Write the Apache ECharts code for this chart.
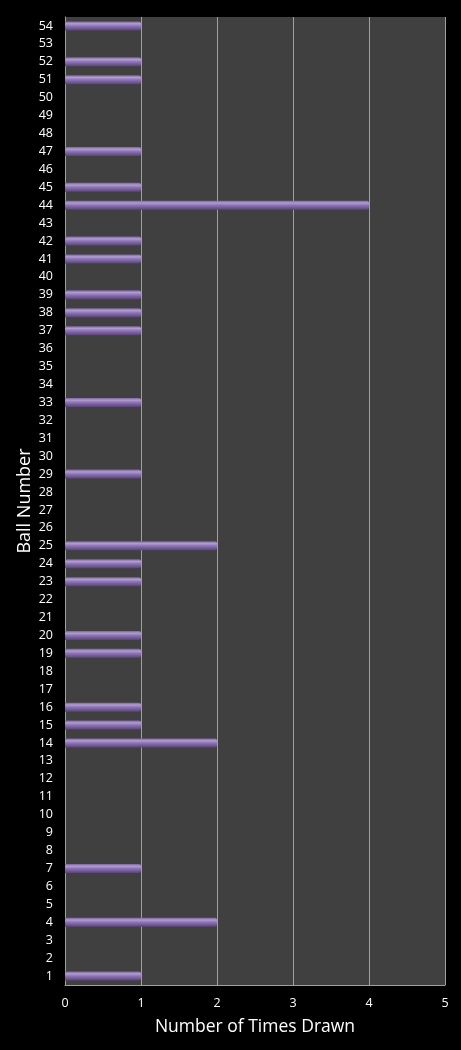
<!DOCTYPE html>
<html><head><meta charset="utf-8">
<script src="https://cdn.jsdelivr.net/npm/echarts@6/dist/echarts.min.js"></script>
<style>html,body{margin:0;padding:0;background:#000;}#c{width:461px;height:1050px;}</style>
</head><body><div id="c"></div>
<script>
const ballNumbers = [];
for (let i = 1; i <= 54; i++) ballNumbers.push(String(i));
const drawnBalls = ['1','4','7','14','15','16','19','20','23','24','25','29','33','37','38','39','41','42','44','45','47','51','52','54'];
const drawnCounts = [1,2,1,2,1,1,1,1,1,1,2,1,1,1,1,1,1,1,4,1,1,1,1,1];
const xTicks = [0,1,2,3,4,5];

const countMap = {};
drawnBalls.forEach((b, i) => countMap[b] = drawnCounts[i]);
const values = ballNumbers.map(b => countMap[b] !== undefined ? countMap[b] : null);

const chart = echarts.init(document.getElementById('c'));
const font = '"Open Sans", sans-serif';
chart.setOption({
  backgroundColor: '#000',
  animation: false,
  grid: { left: 65, right: 16, top: 17, bottom: 65, show: true, backgroundColor: '#404040', borderWidth: 0 },
  xAxis: {
    type: 'value', min: xTicks[0], max: xTicks[xTicks.length-1], interval: 1,
    name: 'Number of Times Drawn', nameLocation: 'middle', nameGap: 33,
    nameTextStyle: { color: '#fff', fontSize: 17.5, fontFamily: font },
    axisLine: { show: true, lineStyle: { color: '#a0a0a0', width: 1 } },
    axisTick: { show: false },
    axisLabel: { color: '#fff', fontSize: 12.5, fontFamily: font, margin: 12 },
    splitLine: { show: true, lineStyle: { color: '#a0a0a0', width: 1 } }
  },
  yAxis: {
    type: 'category', data: ballNumbers,
    name: 'Ball Number', nameLocation: 'middle', nameGap: 31, nameRotate: 90,
    nameMoveOverlap: false,
    nameTextStyle: { color: '#fff', fontSize: 18, fontFamily: font },
    axisLine: { show: true, lineStyle: { color: '#a0a0a0', width: 1 } },
    axisTick: { show: false },
    axisLabel: { color: '#fff', fontSize: 12.5, fontFamily: font, margin: 12, interval: 0 },
    splitLine: { show: false }
  },
  series: [{
    type: 'bar', data: values, barWidth: 9,
    itemStyle: {
      borderRadius: [0, 2, 2, 0],
      color: new echarts.graphic.LinearGradient(0, 0, 0, 1, [
        { offset: 0, color: '#7c64a0' },
        { offset: 0.25, color: '#b09dd0' },
        { offset: 0.5, color: '#8e74b6' },
        { offset: 1, color: '#5a4479' }
      ])
    }
  }]
});
</script></body></html>
